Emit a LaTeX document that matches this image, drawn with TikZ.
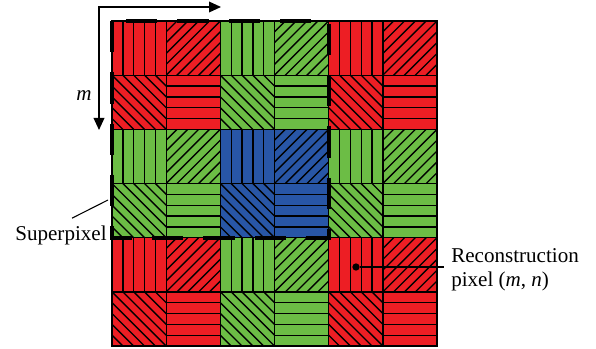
\documentclass[tikz,border=0pt]{standalone}
\usepackage{fontspec}
\setmainfont{Liberation Serif}
\usepackage{xcolor}
\usetikzlibrary{positioning,arrows.meta}
\definecolor{pixred}{RGB}{237,30,36}
\definecolor{pixgreen}{RGB}{108,189,69}
\definecolor{pixblue}{RGB}{40,86,166}

\tikzset{
  gridline/.style={draw=black, line width=1pt},
  superbox/.style={draw=black, line width=3pt, dash pattern=on 23.5pt off 15pt},
  axisline/.style={draw=black, line width=1.1pt,
    {Triangle[length=9pt,width=8pt]}-{Triangle[length=9pt,width=8pt]}},
  leader/.style={draw=black, line width=0.8pt},
  caption/.style={font=\fontsize{15.8}{18}\selectfont, inner sep=0pt, align=left}
}

\begin{document}
\begin{tikzpicture}[x=0.75pt, y=-0.75pt]
  \useasboundingbox (0,0) rectangle (596,349);
  \def\cw{54.17}
  % 6x6 polarisation pixels, superpixels in a Bayer layout
  \foreach \i in {0,...,5}{
    \foreach \j in {0,...,5}{
      \pgfmathsetmacro\px{112+\i*\cw}
      \pgfmathsetmacro\py{21+\j*\cw}
      \pgfmathtruncatemacro\sa{floor(\i/2)}
      \pgfmathtruncatemacro\sb{floor(\j/2)}
      \pgfmathtruncatemacro\isodd{mod(\sa+\sb,2)}
      \pgfmathtruncatemacro\kind{mod(\i,2)+2*mod(\j,2)}
      \ifnum\isodd=1 \def\cellcol{pixgreen}\else\def\cellcol{pixred}\fi
      \ifnum\sa=1 \ifnum\sb=1 \def\cellcol{pixblue}\fi\fi
      \fill[\cellcol] (\px,\py) rectangle ++(\cw,\cw);
      \begin{scope}
        \clip (\px,\py) rectangle ++(\cw,\cw);
        \ifcase\kind
          \foreach \k in {1,...,4} \draw[gridline] (\px+\k*\cw/5,\py) -- ++(0,\cw);
        \or
          \foreach \k in {1,...,9} \draw[gridline] (\px,\py+\k*\cw/5) -- ++(\k*\cw/5,-\k*\cw/5);
        \or
          \foreach \k in {1,...,9} \draw[gridline] (\px,\py+\cw-\k*\cw/5) -- ++(\k*\cw/5,\k*\cw/5);
        \or
          \foreach \k in {1,...,4} \draw[gridline] (\px,\py+\k*\cw/5) -- ++(\cw,0);
        \fi
      \end{scope}
      \draw[gridline] (\px,\py) rectangle ++(\cw,\cw);
    }
  }

  % superpixel outline
  \coordinate (sptl) at (112,21);
  \coordinate (spbr) at (328.7,237.7);
  \draw[superbox] (sptl) rectangle (spbr);

  % index axes
  \coordinate (axo) at (99,7);
  \coordinate (axn) at (221,7);
  \coordinate (axm) at (99,130);
  \draw[axisline] (axn) -- (axo) -- (axm);
  \node[caption] (mlab) at (84,96) {\textit{m}};

  \node[caption] (splab) at (61,235) {Superpixel};
  \coordinate (sptip) at (108,200);
  \draw[leader] ([shift={(11,-7)}]splab.north) -- (sptip);

  \node[circle, fill=black, inner sep=0pt, minimum size=5.5pt] (rdot) at (356,267) {};
  \node[caption, anchor=west] (rlab) at (451,270) {Reconstruction\\pixel (\textit{m}, \textit{n})};
  \draw[leader, shorten >=5pt] (rdot) -- (rdot -| rlab.west);
\end{tikzpicture}
\end{document}
